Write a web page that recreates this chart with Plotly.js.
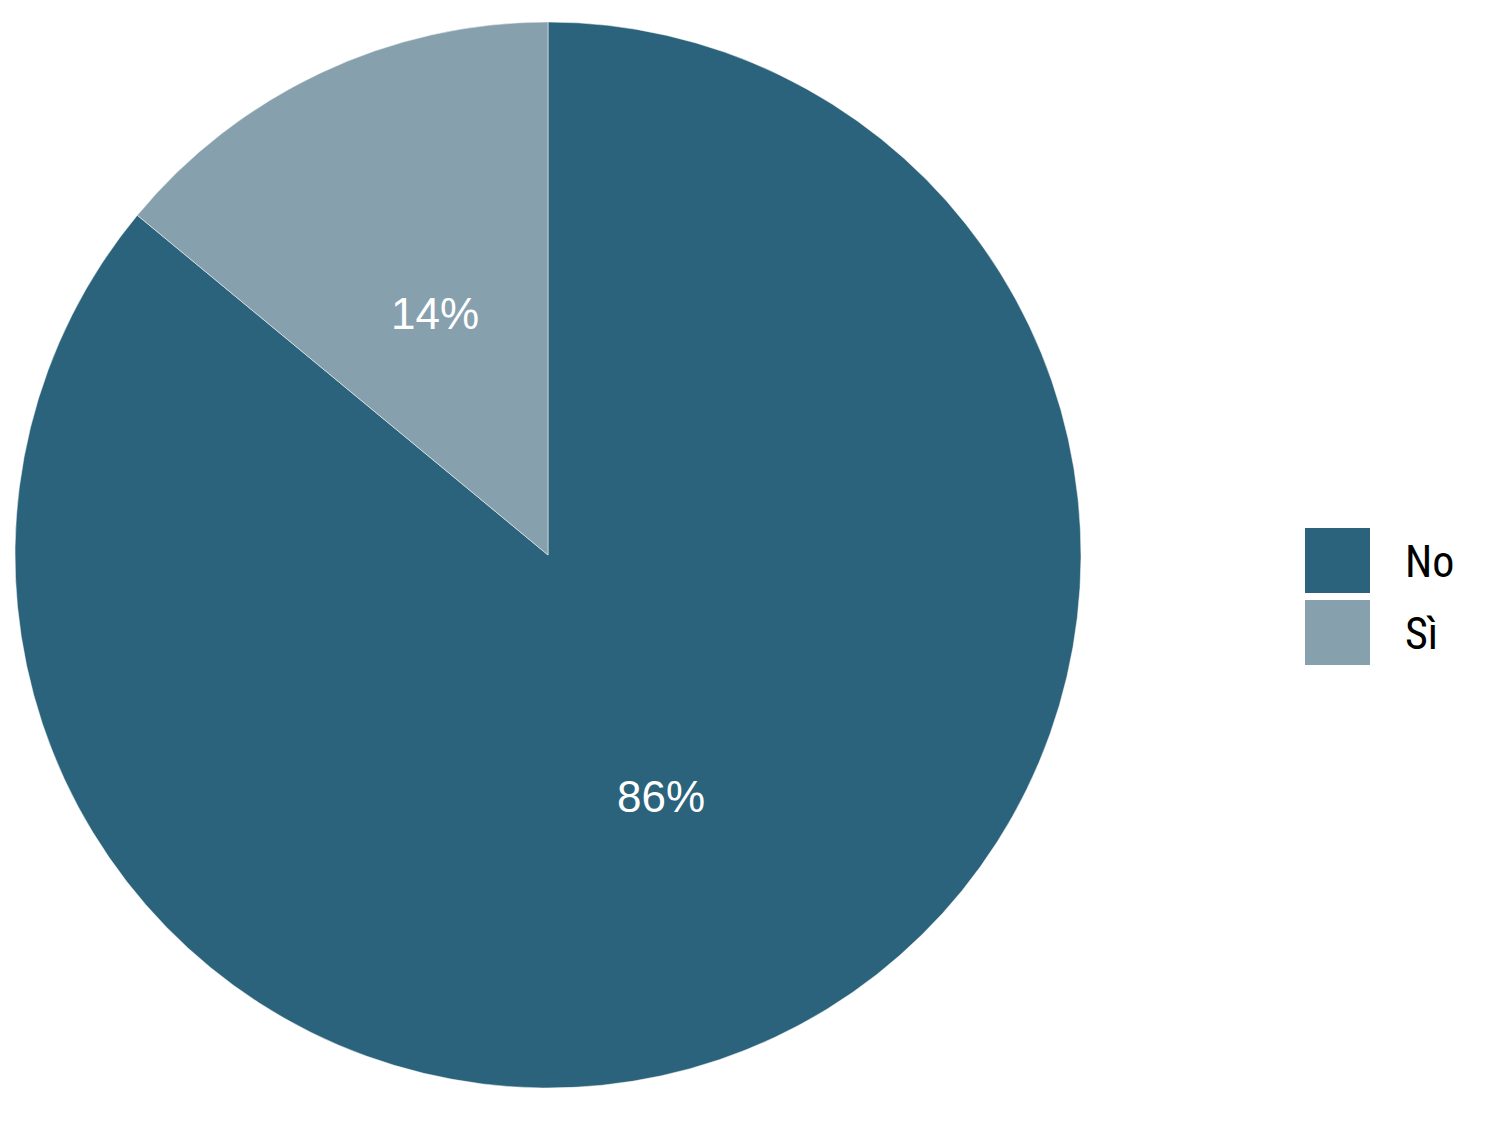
<!DOCTYPE html>
<html>
<head>
<meta charset="utf-8">
<script src="https://cdn.plot.ly/plotly-3.0.1.min.js"></script>
<style>html,body{margin:0;padding:0;background:#fff;}#chart{width:1486px;height:1122px;}</style>
</head>
<body>
<div id="chart"></div>
<script>
const categories = ["No", "Sì"];
const values = [86, 14];
const colors = ["#2A637B", "#86A0AE"];

const W = 1486, H = 1122;
const domX = [15 / W, 1081 / W];
const domY = [1 - 1088 / H, 1 - 22 / H];

const trace = {
  type: "pie",
  labels: categories,
  values: values,
  sort: false,
  direction: "clockwise",
  rotation: 0,
  marker: {colors: colors, line: {color: "#ffffff", width: 0.5}},
  textinfo: "none",
  hoverinfo: "label+percent",
  domain: {x: domX, y: domY},
  showlegend: false
};

const shapes = [];
const annotations = [];

// percentage labels at half radius along each slice's mid-angle (derived from the values)
const total = values.reduce((a, b) => a + b, 0);
const cxPx = (domX[0] + domX[1]) / 2 * W;
const cyPx = (1 - (domY[0] + domY[1]) / 2) * H;
const rPx = Math.min((domX[1] - domX[0]) * W, (domY[1] - domY[0]) * H) / 2;
let cum = 0;
values.forEach((v, i) => {
  const mid = (cum + v / 2) / total * 2 * Math.PI;
  cum += v;
  const px = cxPx + Math.sin(mid) * rPx / 2;
  const py = cyPx - Math.cos(mid) * rPx / 2;
  annotations.push({
    xref: "paper", yref: "paper",
    x: px / W, y: 1 - py / H,
    xanchor: "center", yanchor: "middle",
    text: Math.round(v / total * 100) + "%",
    showarrow: false,
    font: {family: "Liberation Sans, Arial, sans-serif", size: 44, color: "#ffffff"}
  });
});

// custom legend built from categories/colors
const boxTop = [528, 600];
categories.forEach((c, i) => {
  shapes.push({
    type: "rect", xref: "paper", yref: "paper",
    x0: 1305 / W, x1: 1370 / W,
    y0: 1 - (boxTop[i] + 65) / H, y1: 1 - boxTop[i] / H,
    fillcolor: colors[i], line: {width: 0}
  });
  annotations.push({
    xref: "paper", yref: "paper",
    x: 1403 / W, y: 1 - (boxTop[i] + 34) / H,
    xanchor: "left", yanchor: "middle",
    text: c, showarrow: false,
    font: {family: "Roboto Condensed, Liberation Sans Narrow, Roboto, sans-serif", size: 44, color: "#000000"}
  });
});

const layout = {
  width: W, height: H,
  margin: {l: 0, r: 0, t: 0, b: 0},
  paper_bgcolor: "#ffffff",
  showlegend: false,
  shapes: shapes,
  annotations: annotations
};

Plotly.newPlot("chart", [trace], layout, {displayModeBar: false, staticPlot: true});
</script>
</body>
</html>
